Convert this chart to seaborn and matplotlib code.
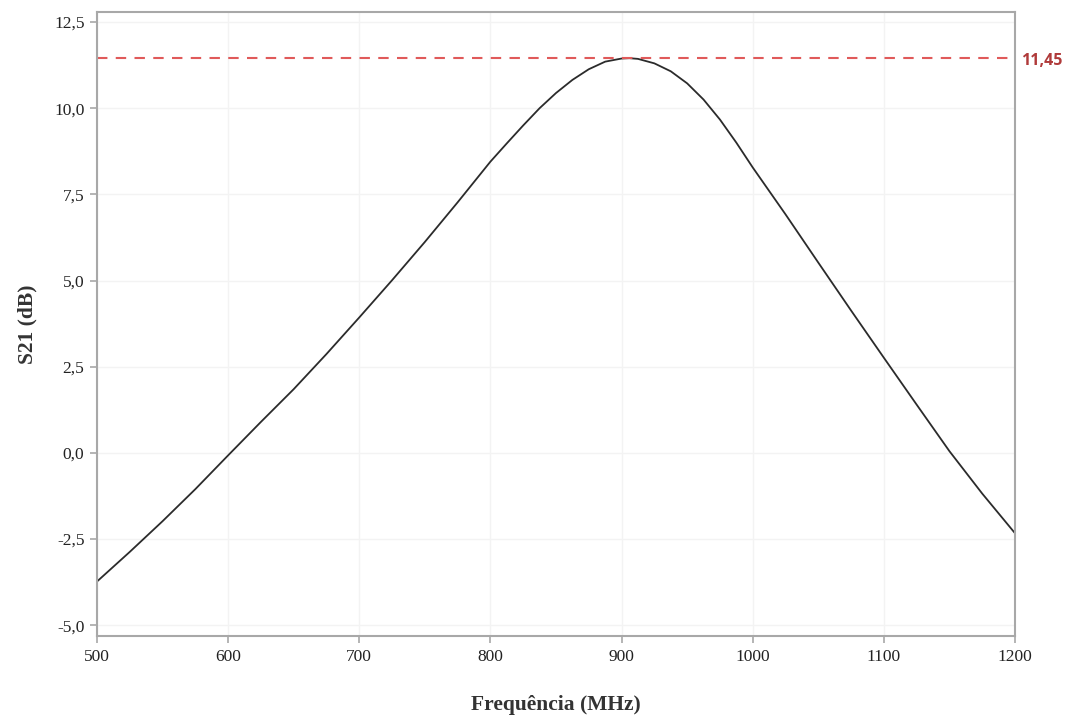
import numpy as np
import pandas as pd
import matplotlib
matplotlib.use("Agg")
import matplotlib.pyplot as plt
import seaborn as sns
from matplotlib.ticker import FuncFormatter, MultipleLocator

# ---- data ----
freq_mhz = [500, 525, 550, 575, 600, 625, 650, 675, 700, 725, 750, 775, 800, 812.5,
            825, 837.5, 850, 862.5, 875, 887.5, 900, 906, 912.5, 925, 937.5, 950,
            962.5, 975, 987.5, 1000, 1025, 1050, 1075, 1100, 1125, 1150, 1175, 1200]
s21_db = [-3.73, -2.87, -1.98, -1.05, -0.07, 0.90, 1.85, 2.87, 3.93, 5.01, 6.12, 7.27,
          8.45, 8.98, 9.50, 10.00, 10.44, 10.82, 11.13, 11.35, 11.44, 11.45, 11.43,
          11.30, 11.07, 10.72, 10.25, 9.67, 9.00, 8.28, 6.92, 5.52, 4.13, 2.76, 1.40,
          0.05, -1.18, -2.33]
peak_value = 11.45
peak_label = "11,45"
x_label = "Frequência (MHz)"
y_label = "S21 (dB)"

df = pd.DataFrame({"freq": freq_mhz, "s21": s21_db})

sns.set_theme(style="white")
plt.rcParams["font.family"] = ["Liberation Serif", "DejaVu Serif"]

fig = plt.figure(figsize=(10.74, 7.18), dpi=100)
ax = fig.add_axes([0.0903, 0.1142, 0.9451 - 0.0903, 0.9833 - 0.1142])

sns.lineplot(data=df, x="freq", y="s21", ax=ax, color="#2b2b2b", linewidth=1.3)
ax.axhline(peak_value, color="#e05a5a", linestyle=(0, (5, 4)), linewidth=1.5)
ax.text(1.006, peak_value - 0.08, peak_label, transform=ax.get_yaxis_transform(),
        color="#b03a3a", fontsize=11.5, fontweight="bold", va="center", ha="left",
        family=["Open Sans", "DejaVu Sans"])

ax.set_xlim(500, 1200)
ax.set_ylim(-5.31, 12.79)
ax.xaxis.set_major_locator(MultipleLocator(100))
ax.yaxis.set_major_locator(MultipleLocator(2.5))
ax.yaxis.set_major_formatter(FuncFormatter(lambda v, p: f"{v:.1f}".replace(".", ",")))
ax.grid(True, color="#f3f3f3", linewidth=1.0)

for side in ["left", "bottom", "top", "right"]:
    ax.spines[side].set_color("#a8a8a8")
    ax.spines[side].set_linewidth(1.5)
ax.tick_params(axis="both", which="major", direction="out", length=5, width=1.2,
               color="#a8a8a8", labelsize=12.5, labelcolor="#222222", pad=4)
ax.tick_params(axis="x", bottom=True, top=False)
ax.tick_params(axis="y", left=True, right=False)

ax.set_xlabel(x_label, fontsize=15.5, fontweight="bold", color="#333333", labelpad=22)
ax.set_ylabel(y_label, fontsize=15.5, fontweight="bold", color="#333333", labelpad=12)

fig.savefig("out.png", dpi=100)
